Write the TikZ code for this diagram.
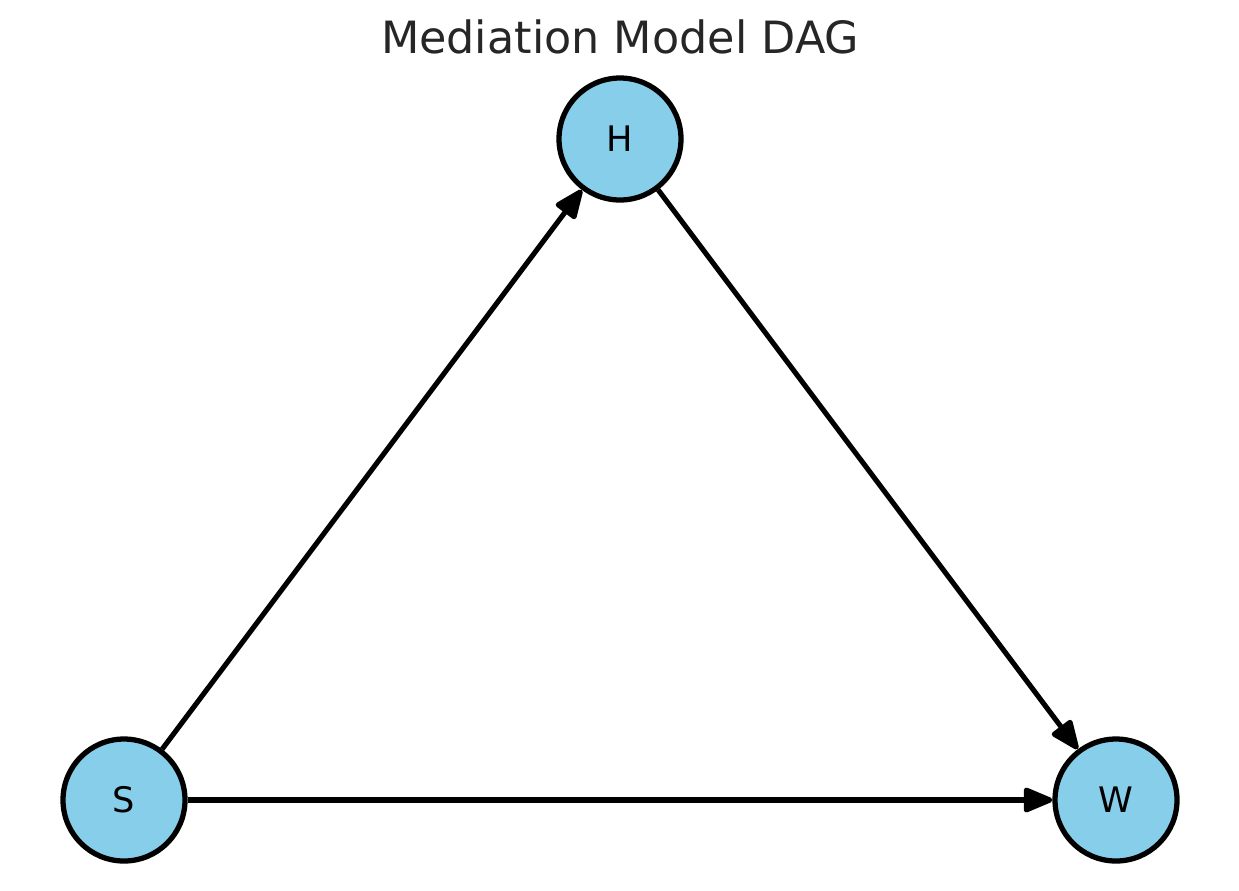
\documentclass[tikz,border=0pt]{standalone}
\usepackage{fontspec}
\setmainfont{DejaVu Sans}
\usetikzlibrary{arrows.meta}
\definecolor{skyblue}{HTML}{87CEEB}
\definecolor{titlegray}{HTML}{262626}

\begin{document}
\begin{tikzpicture}[
	var/.style={circle,draw,fill=skyblue,line width=3pt,minimum size=2.44cm,inner sep=0pt,font=\fontsize{20}{22}\selectfont},
	edge/.style={line width=2.9pt,-{Triangle[length=0.66cm,width=0.52cm,round]}}]
	\useasboundingbox (0,0) rectangle (24.78,-17.8);
	\node[anchor=base,text=titlegray,font=\fontsize{25.3}{30}\selectfont] (title) at (12.4,-1.06) {Mediation Model DAG};
	\node[var] (H) at (12.4,-2.78) {H};
	\node[var] (S) at (2.48,-16) {S};
	\node[var] (W) at (22.32,-16) {W};
	\draw[edge] (S)--(H);
	\draw[edge] (H)--(W);
	\draw[edge] (S)--(W);
\end{tikzpicture}
\end{document}
